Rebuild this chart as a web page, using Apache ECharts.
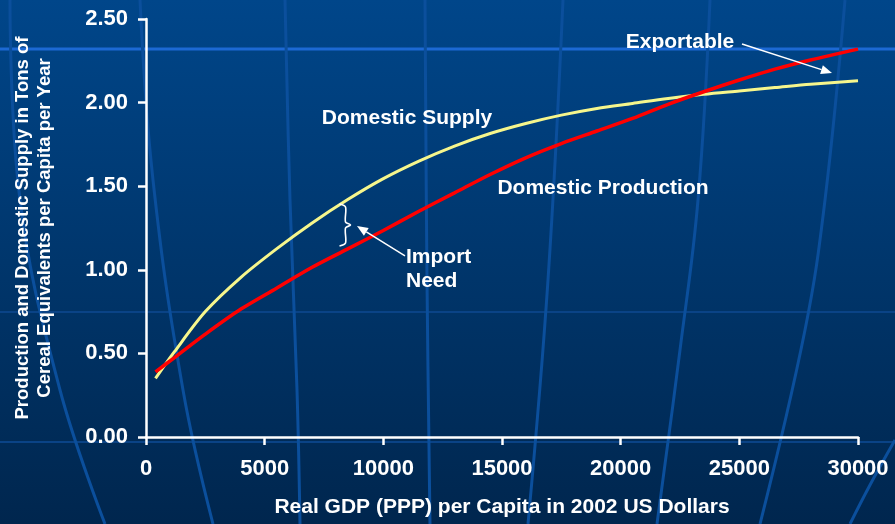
<!DOCTYPE html>
<html>
<head>
<meta charset="utf-8">
<script src="https://cdn.jsdelivr.net/npm/echarts@6/dist/echarts.min.js"></script>
<style>
html,body{margin:0;padding:0;background:#00305f;}
#chart{width:895px;height:524px;}
</style>
</head>
<body>
<div id="chart"></div>
<script>
// ---- data ----
var gdp = [400, 1200, 2500, 4000, 5500, 7000, 8500, 10000, 11500, 13000, 14500, 16000, 17500, 19000, 20500, 22000, 23500, 25000, 26500, 28000, 30000];
var domesticSupply = [0.35, 0.51, 0.75, 0.955, 1.125, 1.28, 1.42, 1.545, 1.65, 1.74, 1.815, 1.875, 1.925, 1.965, 1.995, 2.025, 2.05, 2.07, 2.09, 2.11, 2.13];
var domesticProduction = [0.39, 0.475, 0.615, 0.765, 0.89, 1.015, 1.125, 1.235, 1.35, 1.46, 1.57, 1.67, 1.755, 1.83, 1.905, 1.99, 2.065, 2.135, 2.2, 2.255, 2.32];
var xTicks = [0, 5000, 10000, 15000, 20000, 25000, 30000];
var yTicks = [0, 0.5, 1.0, 1.5, 2.0, 2.5];
var xAxisTitle = 'Real GDP (PPP) per Capita in 2002 US Dollars';
var yAxisTitle = 'Production and Domestic Supply in Tons of\nCereal Equivalents per Capita per Year';

function pairs(xs, ys) { return xs.map(function (x, i) { return [x, ys[i]]; }); }

var FONT = 'Arial, "Liberation Sans", Helvetica, sans-serif';
var chart = echarts.init(document.getElementById('chart'));

// decorative globe background (not data)
var bgColorLine = '#0b4f9c';
var background = [
  { type: 'rect', z: -30, silent: true, shape: { x: 0, y: 0, width: 895, height: 524 },
    style: { fill: new echarts.graphic.LinearGradient(0, 0, 0, 1, [{ offset: 0, color: '#00468a' }, { offset: 1, color: '#00264e' }]) } },
  { type: 'line', z: -20, silent: true, shape: { x1: 0, y1: 49, x2: 895, y2: 49 }, style: { stroke: '#1c69d3', lineWidth: 3 } },
  { type: 'line', z: -20, silent: true, shape: { x1: 0, y1: 312, x2: 895, y2: 312 }, style: { stroke: '#0a4386', lineWidth: 2 } },
  { type: 'line', z: -20, silent: true, shape: { x1: 0, y1: 442, x2: 895, y2: 442 }, style: { stroke: '#0a4386', lineWidth: 2 } },
  { type: 'polyline', z: -20, silent: true, shape: { points: [[10, 0], [20, 200], [60, 390], [105, 524]], smooth: 0.4 }, style: { stroke: bgColorLine, lineWidth: 3, fill: null } },
  { type: 'polyline', z: -20, silent: true, shape: { points: [[140, 0], [153, 180], [183, 390], [213, 524]], smooth: 0.4 }, style: { stroke: bgColorLine, lineWidth: 3, fill: null } },
  { type: 'polyline', z: -20, silent: true, shape: { points: [[285, 0], [290, 200], [297, 390], [300, 524]], smooth: 0.4 }, style: { stroke: bgColorLine, lineWidth: 3, fill: null } },
  { type: 'polyline', z: -20, silent: true, shape: { points: [[425, 0], [427, 280], [430, 524]], smooth: 0.4 }, style: { stroke: bgColorLine, lineWidth: 3, fill: null } },
  { type: 'polyline', z: -20, silent: true, shape: { points: [[563, 0], [548, 280], [528, 524]], smooth: 0.4 }, style: { stroke: bgColorLine, lineWidth: 3, fill: null } },
  { type: 'polyline', z: -20, silent: true, shape: { points: [[710, 0], [698, 200], [680, 350], [657, 524]], smooth: 0.4 }, style: { stroke: bgColorLine, lineWidth: 3, fill: null } },
  { type: 'polyline', z: -20, silent: true, shape: { points: [[845, 0], [825, 200], [805, 330], [760, 524]], smooth: 0.4 }, style: { stroke: bgColorLine, lineWidth: 3, fill: null } },
  { type: 'polyline', z: -20, silent: true, shape: { points: [[895, 440], [870, 485], [850, 524]], smooth: 0.4 }, style: { stroke: bgColorLine, lineWidth: 3, fill: null } }
];

var option = {
  animation: false,
  backgroundColor: '#00305f',
  grid: { left: 146, right: 37, top: 19, bottom: 87, containLabel: false },
  xAxis: {
    type: 'value', min: 0, max: 30000, interval: 5000,
    name: xAxisTitle, nameLocation: 'middle', nameGap: 60,
    nameTextStyle: { color: '#ffffff', fontSize: 21, fontWeight: 'bold', fontFamily: FONT },
    axisLine: { lineStyle: { color: '#ffffff', width: 2.5 } },
    axisTick: { lineStyle: { color: '#ffffff', width: 2.5 }, length: 8 },
    axisLabel: { color: '#ffffff', fontSize: 22, fontWeight: 'bold', fontFamily: FONT, margin: 21,
      formatter: function (v) { return String(v); } },
    splitLine: { show: false }
  },
  yAxis: {
    type: 'value', min: 0, max: 2.5, interval: 0.5,
    name: yAxisTitle, nameLocation: 'middle', nameGap: 90, nameRotate: 90,
    nameTextStyle: { color: '#ffffff', fontSize: 18.5, fontWeight: 'bold', fontFamily: FONT, lineHeight: 22 },
    axisLine: { show: true, lineStyle: { color: '#ffffff', width: 2.5 } },
    axisTick: { show: true, lineStyle: { color: '#ffffff', width: 2.5 }, length: 8 },
    axisLabel: { color: '#ffffff', fontSize: 22, fontWeight: 'bold', fontFamily: FONT, margin: 18,
      formatter: function (v) { return v.toFixed(2); } },
    splitLine: { show: false }
  },
  series: [
    { name: 'Domestic Supply', type: 'line', data: pairs(gdp, domesticSupply), smooth: 0.3, showSymbol: false,
      lineStyle: { color: '#f6f68c', width: 3 }, z: 3 },
    { name: 'Domestic Production', type: 'line', data: pairs(gdp, domesticProduction), smooth: 0.3, showSymbol: false,
      lineStyle: { color: '#ff0000', width: 3.5 }, z: 4 }
  ],
  graphic: background
};
chart.setOption(option);

// annotations anchored in data space
function px(x, y) { return chart.convertToPixel({ gridIndex: 0 }, [x, y]); }
function label(text, x, y, align, vAlign) {
  var p = px(x, y);
  return { type: 'text', z: 10, silent: true, x: p[0], y: p[1],
    style: { text: text, fill: '#ffffff', font: 'bold 21px ' + FONT, align: align, verticalAlign: vAlign, lineHeight: 24 } };
}
function arrow(x1, y1, x2, y2) {
  var a = px(x1, y1), b = px(x2, y2);
  var dx = b[0] - a[0], dy = b[1] - a[1], L = Math.sqrt(dx * dx + dy * dy);
  var ux = dx / L, uy = dy / L, hl = 11, hw = 4.5;
  var base = [b[0] - ux * hl, b[1] - uy * hl];
  return [
    { type: 'line', z: 10, silent: true, shape: { x1: a[0], y1: a[1], x2: base[0], y2: base[1] }, style: { stroke: '#ffffff', lineWidth: 1.5 } },
    { type: 'polygon', z: 10, silent: true, shape: { points: [b, [base[0] - uy * hw, base[1] + ux * hw], [base[0] + uy * hw, base[1] - ux * hw]] }, style: { fill: '#ffffff' } }
  ];
}
var bTop = px(8280, 1.394), bBot = px(8280, 1.142);
var bx = bTop[0], mid = (bTop[1] + bBot[1]) / 2;
var brace = { type: 'polyline', z: 10, silent: true,
  shape: { points: [[bx - 3, bTop[1]], [bx + 3, bTop[1] + 3], [bx + 3, mid - 3], [bx + 8, mid], [bx + 3, mid + 3], [bx + 3, bBot[1] - 3], [bx - 3, bBot[1]]], smooth: 0.3 },
  style: { stroke: '#ffffff', lineWidth: 1.6, fill: null } };

var annotations = [
  label('Domestic Supply', 10997, 1.908, 'center', 'middle'),
  label('Domestic Production', 19256, 1.489, 'center', 'middle'),
  label('Import\nNeed', 10955, 1.002, 'left', 'middle'),
  label('Exportable', 22500, 2.362, 'center', 'middle'),
  brace
].concat(arrow(25112, 2.350, 28904, 2.177)).concat(arrow(10913, 1.083, 8890, 1.262));

chart.setOption({ graphic: background.concat(annotations) });
</script>
</body>
</html>
